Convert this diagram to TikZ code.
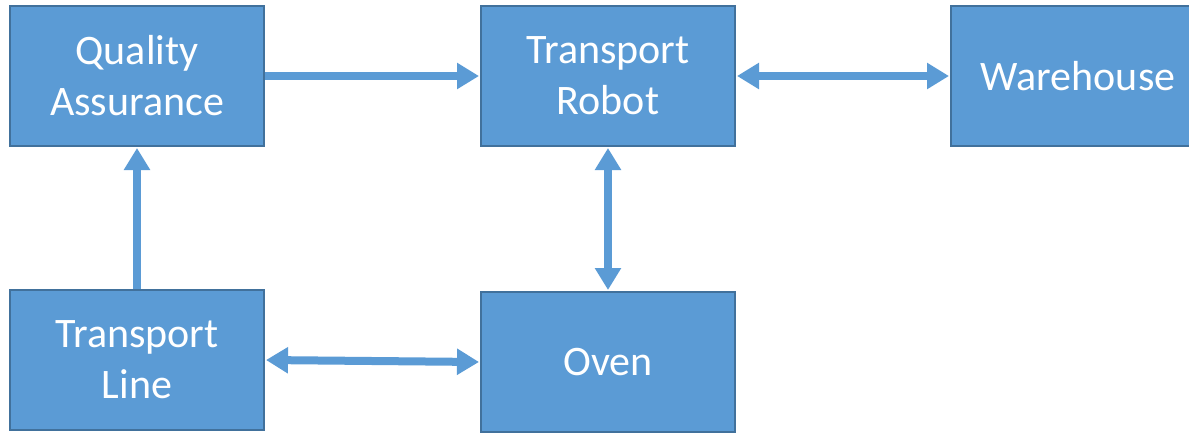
\documentclass[tikz,border=0pt]{standalone}
\usepackage{fontspec}
\setmainfont{Carlito}
\usetikzlibrary{arrows.meta}
\definecolor{boxFill}{HTML}{5B9BD5}
\definecolor{boxLine}{HTML}{41719C}
\tikzset{
	block/.style={rectangle, fill=boxFill, draw=boxLine, line width=2pt, minimum width=254pt, minimum height=140pt, text=white, align=center, font=\fontsize{42}{51}\selectfont},
	link/.style={draw=boxFill, line width=8pt, {Triangle[width=25pt,length=22pt]}-{Triangle[width=25pt,length=22pt]}, shorten <=1pt, shorten >=1pt},
	onelink/.style={draw=boxFill, line width=8pt, -{Triangle[width=25pt,length=22pt]}, shorten >=1pt}
}
\begin{document}
\begin{tikzpicture}[x=1pt, y=-1pt]
	\useasboundingbox (0,0) rectangle (1189,432);
	\clip (0,0) rectangle (1189,432);

	\node[block](qaBox) at (137,76){Quality\\Assurance};
	\node[block](robotBox) at (608,76){Transport\\Robot};
	\node[block](warehouseBox) at (1078,76){Warehouse};
	\node[block](lineBox) at (137,360){Transport\\Line};
	\node[block](ovenBox) at (608,362){Oven};

	\draw[onelink] (qaBox.east) -- (robotBox.west);
	\draw[link] (robotBox.east) -- (warehouseBox.west);
	\draw[link] (robotBox.south) -- (ovenBox.north);
	\draw[link] (lineBox.east) -- (ovenBox.west);
	\draw[onelink] (lineBox.north) -- (qaBox.south);
\end{tikzpicture}
\end{document}
